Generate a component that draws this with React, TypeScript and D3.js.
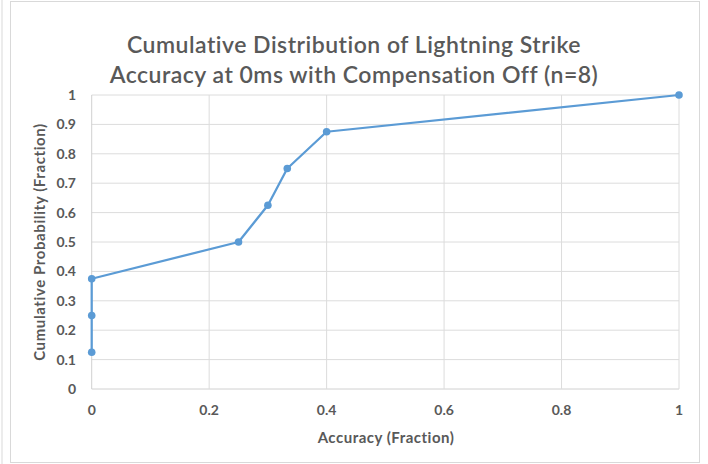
import React from "react";
import * as d3 from "d3";

const accuracy = [0, 0, 0, 0.25, 0.3, 0.333, 0.4, 1];
const cumulative = [0.125, 0.25, 0.375, 0.5, 0.625, 0.75, 0.875, 1];
const xTicks = [0, 0.2, 0.4, 0.6, 0.8, 1];
const yTicks = [0, 0.1, 0.2, 0.3, 0.4, 0.5, 0.6, 0.7, 0.8, 0.9, 1];
const titleLines = [
  "Cumulative Distribution of Lightning Strike",
  "Accuracy at 0ms with Compensation Off (n=8)",
];
const xTitle = "Accuracy (Fraction)";
const yTitle = "Cumulative Probability (Fraction)";

const W = 708;
const H = 464;
const left = 91.7;
const right = 679;
const top = 95;
const bottom = 389;
const font = "Lato, 'Open Sans', sans-serif";
const textColor = "#595959";

export default function App() {
  const x = d3.scaleLinear().domain([0, 1]).range([left, right]);
  const y = d3.scaleLinear().domain([0, 1]).range([bottom, top]);
  const pts = accuracy.map((a, i) => [a, cumulative[i]] as [number, number]);
  const line = d3
    .line<[number, number]>()
    .x((d) => x(d[0]))
    .y((d) => y(d[1]));

  return (
    <svg
      width={W}
      height={H}
      style={{ position: "absolute", left: 0, top: 0 }}
    >
      <rect x={0} y={0} width={W} height={H} fill="#fff" />
      <line x1={2} y1={0} x2={2} y2={H} stroke="#d9d9d9" strokeWidth={1} />
      <rect
        x={10.5}
        y={1.5}
        width={689}
        height={461}
        fill="#fff"
        stroke="#d9d9d9"
        strokeWidth={1}
      />
      {titleLines.map((t, i) => (
        <text
          key={i}
          x={354}
          y={53 + i * 30}
          textAnchor="middle"
          fontFamily={font}
          fontSize={23}
          fontWeight={600}
          letterSpacing={0.5}
          fill={textColor}
        >
          {t}
        </text>
      ))}
      {yTicks.map((t) => (
        <line
          key={"gy" + t}
          x1={left}
          x2={right}
          y1={y(t)}
          y2={y(t)}
          stroke={t === 0 ? "#d0d0d0" : "#dcdcdc"}
          strokeWidth={1}
        />
      ))}
      {xTicks.map((t) => (
        <line
          key={"gx" + t}
          x1={x(t)}
          x2={x(t)}
          y1={top}
          y2={bottom}
          stroke={t === 0 ? "#d0d0d0" : "#dcdcdc"}
          strokeWidth={1}
        />
      ))}
      {yTicks.map((t) => (
        <text
          key={"ty" + t}
          x={76}
          y={y(t)}
          dy="0.35em"
          textAnchor="end"
          fontFamily={font}
          fontSize={14}
          fontWeight={700}
          fill={textColor}
        >
          {d3.format("~g")(t)}
        </text>
      ))}
      {xTicks.map((t) => (
        <text
          key={"tx" + t}
          x={x(t)}
          y={410}
          dy="0.35em"
          textAnchor="middle"
          fontFamily={font}
          fontSize={14}
          fontWeight={700}
          fill={textColor}
        >
          {d3.format("~g")(t)}
        </text>
      ))}
      <text
        x={386}
        y={438}
        dy="0.35em"
        textAnchor="middle"
        fontFamily={font}
        fontSize={15}
        fontWeight={700}
        letterSpacing={0.5}
        fill={textColor}
      >
        {xTitle}
      </text>
      <text
        transform={`translate(40, ${242}) rotate(-90)`}
        textAnchor="middle"
        dy="0.35em"
        fontFamily={font}
        fontSize={15}
        fontWeight={700}
        letterSpacing={0.6}
        fill={textColor}
      >
        {yTitle}
      </text>
      <path
        d={line(pts) || ""}
        fill="none"
        stroke="#5b9bd5"
        strokeWidth={2.25}
        strokeLinejoin="round"
      />
      {pts.map((p, i) => (
        <circle key={i} cx={x(p[0])} cy={y(p[1])} r={3.8} fill="#5b9bd5" />
      ))}
    </svg>
  );
}
